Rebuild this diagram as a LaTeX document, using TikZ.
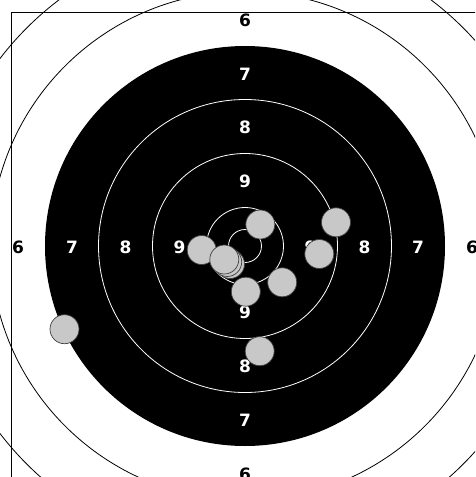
\documentclass[tikz,border=0pt]{standalone}
\usepackage{fontspec}
\setsansfont{DejaVu Sans}
\usetikzlibrary{positioning}
\definecolor{chole}{HTML}{C8C8C8}
\definecolor{cedge}{HTML}{404040}
\tikzset{
  every picture/.style={x=1pt, y=-1pt},
  ringline/.style={draw=#1, line width=0.8pt},
  ringline/.default=black,
  score/.style={font=\sffamily\bfseries\fontsize{17}{17}\selectfont, text=#1, inner sep=0pt, anchor=center},
  score/.default=white,
  hole/.style={circle, draw=cedge, fill=chole, line width=0.7pt, minimum size=29pt, inner sep=0pt},
}

\begin{document}
\begin{tikzpicture}
  \useasboundingbox (0,0) rectangle (475,477);
  \clip (0,0) rectangle (475,477);
  \fill[white] (0,0) rectangle (475,477);
  \coordinate (c) at (245,246);
  \coordinate (m) at (245,247);
  \foreach \r in {308.5,254.5} \draw[ringline] (c) circle[radius=\r];
  \fill[black] (c) circle[radius=200];
  \foreach \r in {146.5,92.5,38.5,16.5} \draw[ringline=white] (c) circle[radius=\r];
  \coordinate (tl) at (11.3,12.3);
  \coordinate (br) at (478.7,479.7);
  \draw[line width=0.8pt] (tl) rectangle (br);
  \foreach \n/\r/\col in {6/227/black, 7/173/white, 8/119.5/white, 9/65.5/white} {
    \node[score=\col] (s\n-w) at ([xshift=-\r pt]m) {\n};
    \node[score=\col] (s\n-e) at ([xshift=\r pt]m) {\n};
    \node[score=\col] (s\n-n) at ([yshift=\r pt]m) {\n};
    \node[score=\col] (s\n-s) at ([yshift=-\r pt]m) {\n};
  }
  \node[hole] (h1) at (260.3,224.5) {};
  \node[hole] (h2) at (336,222.3) {};
  \node[hole] (h3) at (201.7,250) {};
  \node[hole] (h4c) at (230,264) {};
  \node[hole] (h4b) at (227.2,262) {};
  \node[hole] (h4a) at (224.3,259.5) {};
  \node[hole] (h5) at (319.3,254) {};
  \node[hole] (h6) at (282.2,282.3) {};
  \node[hole] (h7) at (245.8,291.7) {};
  \node[hole] (h8) at (259.7,351.2) {};
  \node[hole] (h9) at (64.5,329.2) {};
\end{tikzpicture}
\end{document}
